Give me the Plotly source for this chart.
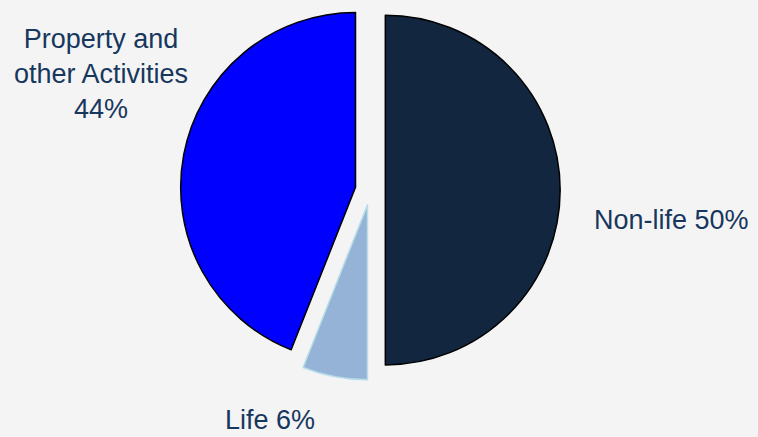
import plotly.graph_objects as go

labels = ["Non-life", "Life", "Property and<br>other Activities"]
values = [50, 6, 44]
colors = ["#12263F", "#95B3D7", "#0000FF"]
line_colors = ["#000000", "#B7DEE8", "#000000"]
pulls = [0.086, 0.086, 0.086]

W, H = 758, 437
BG = "#F4F4F4"
fig = go.Figure(go.Pie(
    labels=labels, values=values, sort=False, direction="clockwise", rotation=0,
    marker=dict(colors=colors, line=dict(color=line_colors, width=1.5)),
    pull=pulls, textinfo="none", hoverinfo="label+percent", showlegend=False,
    domain=dict(x=[0.238, 0.739], y=[0.130, 1.0]),
))

font = dict(family="Liberation Sans, Arial, sans-serif", size=27, color="#17375E")
label_pos = [(671, 220), (270, 420), (101, 74)]
sep = [" ", " ", "<br>"]
for lab, v, (px, py), s in zip(labels, values, label_pos, sep):
    fig.add_annotation(x=px / W, y=1 - py / H, xref="paper", yref="paper",
                       text=f"{lab}{s}{v}%", showarrow=False, font=font,
                       xanchor="center", yanchor="middle", align="center")

fig.update_layout(width=W, height=H, margin=dict(l=0, r=0, t=0, b=0),
                  paper_bgcolor=BG, plot_bgcolor=BG)
fig.write_html("out.html", config={"displayModeBar": False},
               post_script=f"document.body.style.margin='0';document.body.style.overflow='hidden';document.body.style.background='{BG}';")
